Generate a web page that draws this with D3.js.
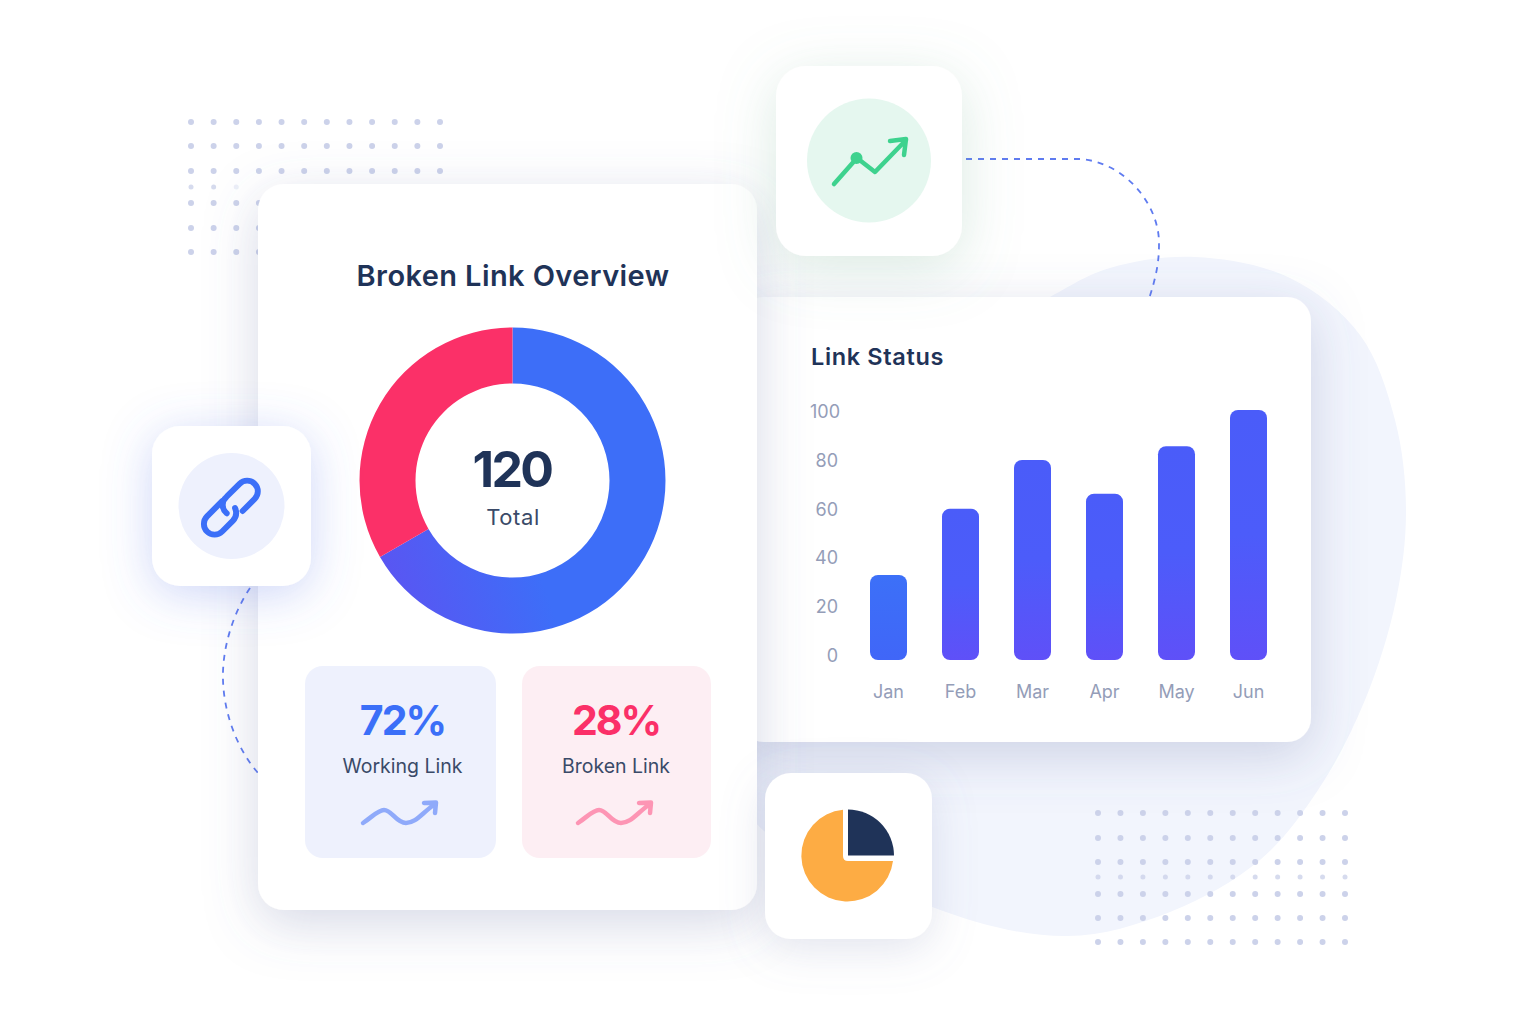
<!DOCTYPE html>
<html><head><meta charset="utf-8">
<script src="https://cdn.jsdelivr.net/npm/d3@7"></script>
<style>html,body{margin:0;padding:0;background:#fff;overflow:hidden}svg{display:block}text{font-family:Inter,"Open Sans",sans-serif}</style>
</head><body><svg id="c" width="1521" height="1034"></svg>
<script>
const donutLabels=["Working Link","Broken Link"];
const donutValues=[80,40];
const donutTotal=120;
const months=["Jan","Feb","Mar","Apr","May","Jun"];
const statusValues=[34,60.5,80,66.5,85.5,100];
const yTicks=[0,20,40,60,80,100];
const statPercents=["72%","28%"];
const blobOutline=[[740,800],[932,907],[1067,936],[1170,912],[1260,860],[1318,790],[1365,700],[1396,600],[1406,510],[1395,420],[1360,335],[1290,278],[1195,257],[1110,268],[1050,297],[800,450]];

const svg=d3.select("#c");
const defs=svg.append("defs");
function shadow(id,dy,blur,color,op){
  const f=defs.append("filter").attr("id",id).attr("x","-50%").attr("y","-50%").attr("width","200%").attr("height","200%");
  f.append("feDropShadow").attr("dx",0).attr("dy",dy).attr("stdDeviation",blur).attr("flood-color",color).attr("flood-opacity",op);
}
shadow("sCard",14,26,"#5f6a9e",0.26);
shadow("sBlue",8,24,"#5b74e8",0.30);
shadow("sGreen",12,28,"#6fae90",0.26);
shadow("sGrey",10,22,"#7d86b0",0.22);
function grad(id,stops,x1,y1,x2,y2){
  const g=defs.append("linearGradient").attr("id",id).attr("x1",x1).attr("y1",y1).attr("x2",x2).attr("y2",y2);
  stops.forEach((s,i)=>g.append("stop").attr("offset",i/(stops.length-1)).attr("stop-color",s));
}
grad("barGrad",["#4a5cf9","#4c5cfa","#5f50f8"],0,0,0,1);
grad("barGrad0",["#3c70f8","#4066f8"],0,0,0,1);
const dl=defs.append("linearGradient").attr("id","donutBlueLocal").attr("gradientUnits","userSpaceOnUse").attr("x1",-130).attr("y1",95).attr("x2",10).attr("y2",45);
dl.append("stop").attr("offset",0).attr("stop-color","#5a55f2");dl.append("stop").attr("offset",1).attr("stop-color","#3d6ef8");

// blob
svg.append("path").attr("fill","#f2f5fd").attr("d",d3.line().curve(d3.curveCatmullRomClosed.alpha(0.5))(blobOutline));

// dots
const colsL=d3.range(12);
const xL=d3.scaleLinear().domain([0,11]).range([191,440]);
const xR=d3.scaleLinear().domain([0,11]).range([1098,1345]);
const gd=svg.append("g").attr("fill","#ccd2ea");
[122,146,171,203,228,252].forEach(y=>colsL.forEach(i=>gd.append("circle").attr("cx",xL(i)).attr("cy",y).attr("r",3)));
[0,1,2].forEach(i=>gd.append("circle").attr("cx",xL(i)).attr("cy",187).attr("r",2.5).attr("opacity",i==2?.35:.8));
[813,838,862,894,918,942].forEach(y=>colsL.forEach(i=>gd.append("circle").attr("cx",xR(i)).attr("cy",y).attr("r",3)));
colsL.forEach(i=>gd.append("circle").attr("cx",xR(i)).attr("cy",877).attr("r",2.5).attr("opacity",.8));

// connectors
const dash=svg.append("g").attr("fill","none").attr("stroke","#5f7bf0").attr("stroke-width",1.8).attr("stroke-dasharray","6 6");
dash.append("path").attr("d","M966,159 L1080,159 C1125,162 1160,205 1159,245 C1159,265 1155,280 1149,299");
dash.append("path").attr("d","M250,588 C232,615 222,650 223,680 C224,715 238,750 258,773");

function card(x,y,w,h,r,f){return svg.append("rect").attr("x",x).attr("y",y).attr("width",w).attr("height",h).attr("rx",r).attr("fill","#fff").attr("filter",`url(#${f})`);}

// Right card
card(740,297,571,445,24,"sCard");
const bar=svg.append("g");
bar.append("text").attr("x",811).attr("y",365).attr("font-size",23.5).attr("font-weight",600).attr("letter-spacing",.65).attr("fill","#1f3358").text("Link Status");
const y=d3.scaleLinear().domain([0,100]).range([660,410]);
const yLabel=d3.scaleLinear().domain([0,100]).range([655,411]);
const x=d3.scaleBand().domain(months).range([852.5,1284.5]).paddingInner(35/72).paddingOuter(17.5/72);
const ya=bar.append("g").attr("transform","translate(838,0)").call(d3.axisLeft(yLabel).tickValues(yTicks).tickSize(0).tickPadding(0));
ya.select(".domain").remove();
ya.selectAll("text").attr("font-size",18).attr("fill","#949db8").attr("dy","0.36em").attr("dx",d=>d==100?2:0).attr("font-family","Inter");
const xa=bar.append("g").attr("transform","translate(0,684)").call(d3.axisBottom(x).tickSize(0).tickPadding(0));
xa.select(".domain").remove();
xa.selectAll("text").attr("font-size",18).attr("fill","#949db8").attr("dy","0.8em").attr("font-family","Inter");
bar.selectAll("rect.b").data(statusValues).join("rect").attr("class","b")
 .attr("x",(d,i)=>x(months[i])).attr("width",x.bandwidth()).attr("y",d=>y(d)).attr("height",d=>y(0)-y(d)).attr("rx",8)
 .attr("fill",(d,i)=>i==0?"url(#barGrad0)":"url(#barGrad)");

// Left card
card(258,184,499,726,26,"sCard");
svg.append("text").attr("x",513).attr("y",286).attr("text-anchor","middle").attr("font-size",29).attr("font-weight",600).attr("letter-spacing",.4).attr("fill","#1f3358").text("Broken Link Overview");
const pie=d3.pie().sort(null)(donutValues);
const arc=d3.arc().innerRadius(97).outerRadius(153);
const dgroup=svg.append("g").attr("transform","translate(512.5,480.5)");
dgroup.selectAll("path").data(pie).join("path").attr("d",arc).attr("fill",(d,i)=>i==0?"url(#donutBlueLocal)":"#fb3068");
svg.append("text").attr("x",512).attr("y",487).attr("text-anchor","middle").attr("font-size",50).attr("font-weight",700).attr("letter-spacing",-2.6).attr("fill","#1f3358").text(donutTotal);
svg.append("text").attr("x",513).attr("y",525).attr("text-anchor","middle").attr("font-size",22).attr("letter-spacing",.6).attr("fill","#3a4a68").text("Total");

// Stat tiles
const tiles=[{x:305,w:191,fill:"#eef1fd",col:"#3b6ff8",arrow:"#8faafa",cx:402.5,ox:362},{x:522,w:189,fill:"#fdeef3",col:"#fb3068",arrow:"#fd95b4",cx:616,ox:577}];
tiles.forEach((t,i)=>{
  svg.append("rect").attr("x",t.x).attr("y",666).attr("width",t.w).attr("height",192).attr("rx",18).attr("fill",t.fill);
  svg.append("text").attr("x",t.cx).attr("y",735).attr("text-anchor","middle").attr("font-size",41).attr("font-weight",700).attr("letter-spacing",-2).attr("fill",t.col).text(statPercents[i]);
  svg.append("text").attr("x",t.cx).attr("y",773).attr("text-anchor","middle").attr("font-size",19.5).attr("fill","#3a4a68").text(donutLabels[i]);
  const ox=t.ox;
  svg.append("path").attr("fill","none").attr("stroke",t.arrow).attr("stroke-width",4.5).attr("stroke-linecap","round").attr("stroke-linejoin","round")
   .attr("d",`M${ox+1},823 C${ox+10},817 ${ox+16},810 ${ox+22},810 C${ox+30},810 ${ox+34},823 ${ox+44},823 C${ox+54},823 ${ox+60},813 ${ox+73},804 M${ox+62},803 L${ox+74},802.500 L${ox+73},813`);
});

// Link icon tile
card(152,426,159,160,28,"sBlue");
svg.append("circle").attr("cx",231.500).attr("cy",506).attr("r",53).attr("fill","#eef1fd");
const li=svg.append("g").attr("fill","none").attr("stroke","#3b6ff8").attr("stroke-width",5.5).attr("stroke-linecap","round").attr("transform","translate(232,506.500) rotate(-45) scale(1.07)");
li.append("path").attr("d","M-3,-10 L-23,-10 A10,10 0 0 0 -23,10 L-9,10 A11,11 0 0 0 1,3 M3,-10");
li.append("path").attr("d","M-8,1 A10,10 0 0 1 3,-10 L20,-10 A10,10 0 0 1 20,10 L4,10");

// Trend icon tile
card(776,66,186,190,30,"sGreen");
svg.append("circle").attr("cx",869).attr("cy",160.500).attr("r",62).attr("fill","#e5f7ef");
const tr=svg.append("g").attr("fill","none").attr("stroke","#3ed28e").attr("stroke-width",4.5).attr("stroke-linecap","round").attr("stroke-linejoin","round");
tr.append("path").attr("d","M834,184 L857,158 L875,172 L906,140 M890,141 L906,139 L904,155");
svg.append("circle").attr("cx",856.500).attr("cy",158).attr("r",6).attr("fill","#3ed28e");

// Pie icon tile
card(765,773,167,166,26,"sGrey");
const ip=svg.append("g");
ip.append("path").attr("fill","#fdac44").attr("d","M843,809.700 A46,46 0 1 0 893,861 L848,861 Q843,861 843,856 Z");
ip.append("path").attr("fill","#1f3358").attr("d",d3.arc().innerRadius(0).outerRadius(46)({startAngle:0,endAngle:Math.PI/2})).attr("transform","translate(848,855.500)");
</script></body></html>
